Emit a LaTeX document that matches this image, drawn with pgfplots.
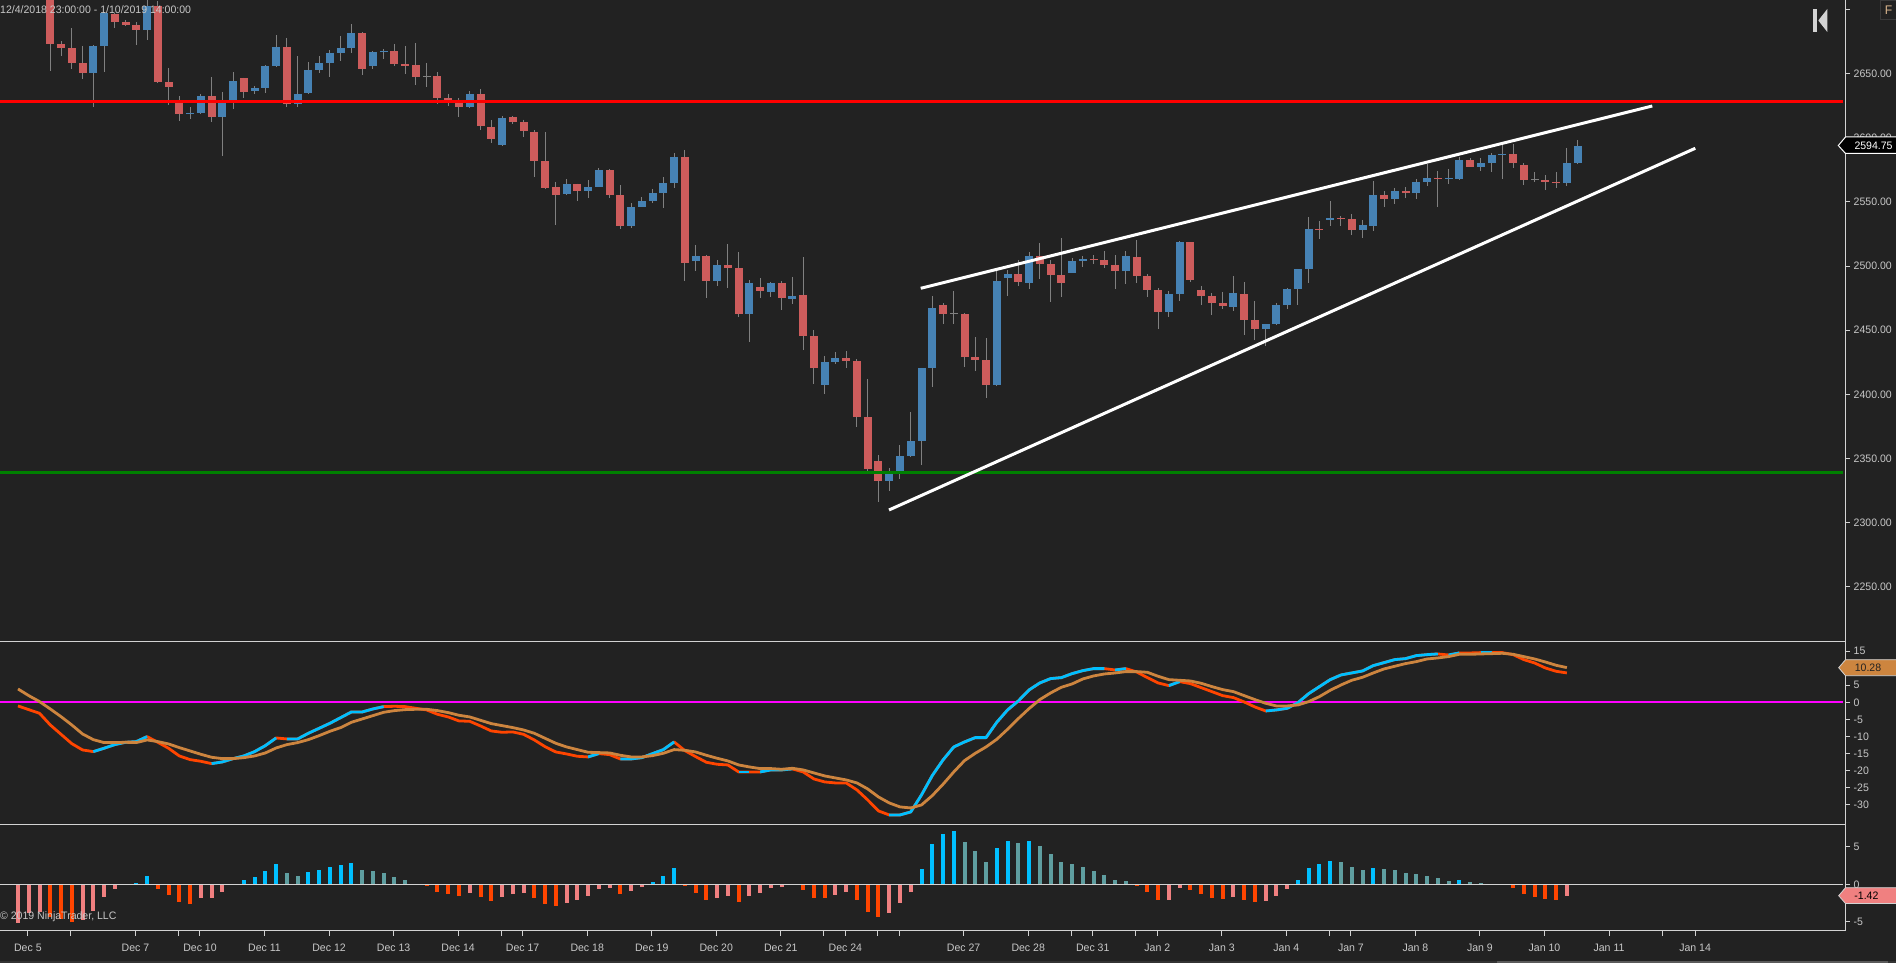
\documentclass[border=0pt]{standalone}
\usepackage{pgfplots}
\usepackage{pgfplotstable}
\usepackage{fontspec}
\setmainfont[FakeStretch=0.975]{Liberation Sans}
\pgfplotsset{compat=1.18}
\definecolor{bg}{HTML}{222222}
\definecolor{axg}{HTML}{D3D3D3}
\definecolor{txt}{HTML}{C8C8C8}
\definecolor{upc}{HTML}{4682B4}
\definecolor{dnc}{HTML}{CD5C5C}
\definecolor{wick}{HTML}{808080}
\definecolor{cy}{HTML}{00BFFF}
\definecolor{orr}{HTML}{FF4500}
\definecolor{peru}{HTML}{CD853F}
\definecolor{teal2}{HTML}{5F9EA0}
\definecolor{pink2}{HTML}{F08080}
\definecolor{mag}{HTML}{FF00FF}
\definecolor{grn}{HTML}{008000}
\definecolor{fbtn}{HTML}{3A3A3A}
\definecolor{ftxt}{HTML}{D8B48C}
\definecolor{strip}{HTML}{333333}
\definecolor{thumb}{HTML}{5A5A5A}

\pgfplotstableread{
i top bot hi lo
3 2712 2675.2 2715 2654
4 2675 2671.8 2677.3 2665.8
5 2671.8 2660 2687.5 2655.3
6 2660 2652 2673.4 2647.4
9 2698.6 2692.3 2699 2687.5
10 2692.3 2689.9 2693.9 2689.1
11 2689.9 2686 2692.3 2674.2
13 2704.9 2645 2708.8 2644.2
14 2645 2641.1 2656 2626.9
15 2630 2619.8 2634 2614.3
18 2634 2617.5 2649 2613.5
21 2648.2 2637.2 2648.5 2632.4
25 2672.6 2627.7 2679.7 2625.3
32 2683.6 2655.3 2684.4 2650.5
35 2669.4 2659.2 2675 2657.6
36 2659.2 2657.6 2673.4 2651.3
37 2658.4 2649 2675.7 2642.7
39 2649.8 2632.4 2652.9 2627.7
40 2632.4 2630 2635.6 2626.1
41 2630 2625.3 2632.4 2617.5
43 2635.6 2610.4 2639.5 2607.2
44 2609.6 2600.1 2615.1 2597
46 2617.5 2613.5 2618 2612
47 2613.5 2606.4 2615.5 2601.7
48 2605.6 2582.8 2607.2 2570.2
49 2582.8 2561.6 2605.6 2561
50 2562.3 2556 2566.3 2532.4
52 2564.7 2559.2 2565 2551.3
55 2575.7 2556 2576.5 2553.7
56 2556 2531.6 2563.9 2529.3
62 2586 2502.5 2591.5 2488.3
64 2508 2488.3 2508.8 2474.9
66 2500.9 2498.6 2517.5 2482.8
67 2498.6 2462.3 2511.2 2460
69 2483.6 2480.4 2490.7 2474.9
71 2486.8 2474.9 2488.3 2465.5
73 2477.3 2445 2507.2 2434
74 2445 2419.8 2449.8 2407.2
77 2427.7 2425.3 2433.2 2419.8
78 2425.3 2381.2 2426.9 2373.4
79 2381.2 2340.3 2411.2 2338.7
80 2346.6 2330.9 2351.3 2314.3
86 2469.4 2462.3 2471 2454.5
88 2462.3 2428.5 2463 2420.6
89 2428.5 2426.1 2444.2 2417.5
90 2426.1 2406.8 2443.4 2396
93 2493.8 2487.5 2504.9 2484.4
95 2508 2501.7 2518.3 2489.9
96 2501.7 2493 2504.9 2471.8
97 2493 2486.8 2522.2 2475.7
100 2505.6 2504.9 2508.8 2501.7
101 2504.9 2500.9 2512 2498.6
102 2500.9 2496.2 2508.8 2482
104 2507.2 2492.3 2520.6 2486.8
105 2492.3 2481.2 2493.8 2475.7
106 2481.2 2463.9 2482.8 2450.5
109 2519 2489.1 2519 2487.5
110 2481.2 2476.5 2484.4 2469.4
111 2476.5 2471 2478.9 2461.6
112 2471 2468.6 2479.7 2466.3
114 2478.1 2457.6 2487.5 2445.8
115 2457.6 2450.5 2472.6 2441.9
121 2529.3 2528.5 2535.6 2521.4
123 2537.9 2537.1 2539.5 2531.6
124 2537.1 2528.5 2541.1 2524.6
127 2556 2552.9 2559.2 2546.6
129 2559.2 2557.6 2562.3 2553.7
132 2569.4 2568.6 2575 2546.6
135 2583.6 2578.1 2585.2 2578
139 2588.3 2581.2 2596.2 2577.3
140 2579.7 2567.9 2581.2 2564
142 2567.9 2566.3 2571.8 2560
143 2566.3 2565.5 2574.2 2561.6
}\dncandles

\pgfplotstableread{
i top bot hi lo
7 2673.4 2652.1 2674.2 2625.3
8 2699.1 2673.4 2700 2652.9
12 2704.9 2686 2709.6 2678.1
16 2620.6 2619.8 2625.3 2615.9
17 2634 2620.6 2635.6 2620
19 2630.9 2617.5 2637.2 2586.8
20 2645.8 2630.9 2652.9 2623.8
22 2640.3 2638 2641.9 2635.6
23 2657.6 2640.3 2658.4 2636.4
24 2672.6 2657.6 2682 2656.8
26 2635.6 2627.7 2665.5 2625.3
27 2654.5 2636.4 2660.8 2635.6
28 2660 2654.5 2665.5 2652.1
29 2667.9 2660 2670.2 2649
30 2671.8 2667.9 2681.3 2661.6
31 2683.6 2671.8 2690.7 2667.9
33 2668.7 2657.6 2669.4 2655.3
34 2669.4 2668.7 2671 2663.1
42 2635.6 2625.3 2637.9 2624.6
45 2616.7 2595.4 2618 2595
51 2564.7 2556.8 2568.6 2556
53 2562.3 2559.2 2567.9 2553.7
54 2575.7 2562.3 2577.3 2562
57 2546.6 2531.6 2549.7 2530.1
58 2551.3 2546.6 2554.5 2546.5
59 2557.6 2551.3 2560.8 2549.7
60 2565.5 2557.6 2570.2 2545.8
61 2586 2565.5 2589.1 2561.6
63 2508 2504.1 2516.7 2496.2
65 2500.9 2488.3 2504.9 2484.4
68 2486.8 2462.3 2489.1 2440.3
70 2486.8 2479.7 2487.5 2475.7
72 2476.5 2474.2 2491.5 2470.2
75 2424.6 2406.4 2429.3 2399.4
76 2427.7 2424.6 2432.4 2423
81 2336.4 2330.9 2341.1 2323
82 2350.5 2338.7 2359.2 2332.4
83 2362.3 2350.5 2385.2 2350
84 2419.8 2362.3 2420 2343.4
85 2467.1 2419.8 2476.5 2404.9
91 2488.3 2406.8 2496.2 2406
92 2493.8 2490.7 2497 2476.5
94 2508 2486.8 2511.2 2482
98 2504.1 2494.6 2506.4 2494.5
99 2505.6 2504.1 2508 2499.4
103 2508 2496.2 2512 2486
107 2478.1 2463.9 2480.5 2460
108 2519 2478.1 2519.8 2472.6
113 2478.9 2467.9 2492.3 2464.7
116 2454.5 2450.5 2454.5 2437.1
117 2469.4 2454.5 2471 2453.7
118 2482 2469.4 2482.8 2466.3
119 2497.8 2482 2497.8 2469.4
120 2529.3 2497.8 2538.7 2486.8
122 2537.9 2536.4 2551.3 2531.6
125 2532.4 2528.5 2536.4 2522.2
126 2556 2531.6 2567.1 2527.7
128 2559.2 2552.9 2561.6 2549
130 2566.3 2557.6 2568.6 2552.9
131 2569.4 2566.3 2580.5 2563.1
133 2569.4 2568.6 2576.5 2564.7
134 2583.6 2568.6 2586 2567.9
136 2581.2 2578.1 2585.2 2575
137 2587.6 2581.2 2589.1 2574.2
138 2588.3 2587.6 2595.4 2568.6
144 2581.2 2565.5 2593.1 2563.1
145 2594.6 2581.2 2599.4 2580.5
}\upcandles

\pgfplotstableread{
i top bot hi lo
38 2649.9 2649.1 2660 2641.1
87 2463.3 2462.5 2480.5 2454.5
141 2568.8 2568 2574.2 2566.3
}\dojis

\pgfplotstableread{
i m s
0 -1.07 3.90
1 -2.15 1.95
2 -3.22 0.20
3 -6.63 -1.95
4 -9.37 -4.20
5 -12.10 -6.63
6 -13.95 -9.27
7 -14.44 -10.93
8 -13.46 -11.80
9 -12.39 -11.80
10 -11.71 -11.71
11 -11.51 -11.80
12 -10.05 -11.02
13 -11.71 -11.51
14 -13.46 -12.20
15 -15.71 -13.27
16 -16.78 -14.24
17 -17.27 -15.22
18 -17.95 -16.10
19 -17.46 -16.49
20 -16.49 -16.49
21 -15.71 -16.20
22 -14.44 -15.71
23 -12.68 -14.83
24 -10.44 -13.37
25 -10.73 -12.39
26 -10.73 -11.80
27 -9.07 -10.93
28 -7.61 -9.76
29 -6.15 -8.49
30 -4.49 -7.41
31 -2.83 -5.85
32 -2.83 -4.88
33 -1.95 -3.90
34 -1.27 -2.93
35 -1.17 -2.44
36 -1.27 -2.15
37 -1.76 -2.05
38 -2.24 -2.05
39 -3.51 -2.44
40 -4.29 -3.02
41 -5.46 -3.80
42 -5.56 -4.29
43 -6.93 -5.27
44 -8.39 -6.24
45 -8.78 -6.83
46 -8.68 -7.41
47 -9.37 -8.10
48 -11.02 -9.07
49 -12.98 -10.54
50 -14.54 -12.00
51 -15.12 -13.07
52 -15.80 -13.85
53 -16.00 -14.63
54 -15.02 -14.73
55 -15.32 -14.83
56 -16.59 -15.51
57 -16.59 -16.00
58 -16.20 -16.00
59 -15.02 -15.61
60 -13.85 -14.93
61 -11.61 -13.85
62 -14.15 -14.05
63 -15.90 -14.54
64 -17.56 -15.51
65 -18.15 -16.39
66 -18.34 -17.17
67 -20.39 -18.34
68 -20.39 -18.93
69 -20.39 -19.41
70 -19.80 -19.41
71 -19.80 -19.61
72 -19.51 -19.32
73 -20.39 -19.80
74 -22.44 -20.68
75 -23.32 -21.56
76 -23.61 -22.15
77 -23.61 -22.73
78 -25.66 -23.61
79 -28.59 -25.37
80 -31.80 -27.71
81 -32.98 -29.46
82 -32.98 -30.63
83 -32.10 -30.93
84 -27.12 -30.05
85 -21.46 -27.32
86 -16.88 -24.00
87 -13.07 -20.39
88 -11.61 -17.07
89 -10.34 -14.93
90 -10.34 -13.07
91 -5.85 -10.83
92 -2.24 -7.90
93 0.39 -4.78
94 3.61 -1.85
95 5.66 0.78
96 6.93 2.73
97 7.22 4.39
98 8.39 5.37
99 9.27 6.83
100 9.85 7.71
101 9.85 8.29
102 9.46 8.58
103 9.85 8.98
104 8.88 8.98
105 7.22 8.78
106 5.66 7.61
107 4.88 6.63
108 6.05 6.44
109 5.46 6.24
110 4.29 5.56
111 3.12 4.59
112 1.95 3.71
113 1.37 3.12
114 0.10 1.95
115 -1.37 0.78
116 -2.54 -0.29
117 -2.24 -1.07
118 -1.76 -1.07
119 -0.10 -0.78
120 2.54 0.20
121 4.59 1.66
122 6.63 3.51
123 8.00 5.07
124 8.59 6.44
125 9.17 7.32
126 10.73 8.59
127 11.61 9.76
128 12.49 10.54
129 12.78 11.32
130 13.66 11.90
131 13.95 12.68
132 14.15 12.98
133 13.85 13.37
134 14.44 14.05
135 14.44 14.05
136 14.54 14.15
137 14.54 14.24
138 14.54 14.34
139 13.95 14.05
140 12.49 13.37
141 11.51 12.68
142 10.05 11.80
143 9.07 10.83
144 8.59 10.15
}\macd

\pgfplotstableread{
i v
11 0.18
12 1.10
21 0.58
22 0.98
23 1.78
24 2.71
27 1.64
28 1.91
29 2.31
30 2.58
31 2.84
59 0.31
60 1.11
61 2.18
72 0.09
84 2.04
85 5.38
86 6.71
87 7.11
91 4.84
92 5.78
94 5.78
119 0.58
120 2.18
121 2.71
122 3.11
126 2.18
134 0.58
}\hcy
\pgfplotstableread{
i v
20 0.09
25 1.51
26 1.11
32 1.91
33 1.78
34 1.51
35 0.98
36 0.58
37 0.09
88 5.64
89 4.44
90 2.98
93 5.51
95 5.11
96 4.04
97 2.98
98 2.71
99 2.31
100 1.78
101 1.24
102 0.58
103 0.44
123 2.98
124 2.31
125 1.91
127 2.04
128 1.91
129 1.51
130 1.38
131 1.11
132 0.84
133 0.44
135 0.31
136 0.18
137 0.09
}\hte
\pgfplotstableread{
i v
3 -4.30
4 -4.60
5 -5.00
13 -0.58
14 -1.42
15 -2.36
16 -2.62
38 -0.22
39 -1.02
40 -1.29
41 -1.56
43 -1.69
44 -2.22
48 -1.82
49 -2.62
50 -2.89
56 -1.29
62 -0.22
63 -1.16
64 -2.09
67 -2.36
73 -0.76
74 -1.82
75 -1.82
78 -2.09
79 -3.69
80 -4.36
104 -0.22
105 -1.02
106 -2.09
109 -0.76
110 -1.29
111 -1.82
112 -1.96
114 -2.09
115 -2.36
139 -0.49
140 -1.29
141 -1.69
142 -1.96
143 -2.09
}\hor
\pgfplotstableread{
i v
0 -5.11
1 -3.87
2 -3.64
6 -4.76
7 -3.51
8 -1.64
9 -0.58
17 -1.82
18 -1.82
19 -1.02
42 -1.16
45 -1.69
46 -1.29
47 -1.16
51 -2.49
52 -2.09
53 -1.56
54 -0.62
55 -0.49
57 -0.89
58 -0.36
65 -1.82
66 -1.56
68 -1.56
69 -1.16
70 -0.49
71 -0.36
76 -1.42
77 -1.02
81 -3.82
82 -2.49
83 -1.02
107 -2.09
108 -0.49
113 -1.69
116 -2.22
117 -1.56
118 -0.62
144 -1.50
}\hpi

\pgfplotsset{
  panel/.style={
    scale only axis, width=1845pt,
    xmin=-1.6735, xmax=169.86,
    axis x line=bottom, axis y line=right,
    axis line style={draw=axg, line width=1pt, -},
    tick align=outside, major tick length=5pt,
    tick style={draw=axg, line width=1pt},
    every tick label/.style={font=\fontsize{10.8}{12}\selectfont, text=txt},
    yticklabel style={anchor=west, inner sep=0pt, xshift=3.5pt},
    clip=true,
  },
  hb/.style={forget plot, ycomb, no marks, color=#1, line width=4pt, line cap=butt},
}
% the candle tables were read with a scale of 1.27 px per point; the axis has 1.282
\newcommand{\wicks}[1]{\addplot[forget plot,no marks,color=wick,line width=1pt,line cap=butt,quiver={u=0,v=(\thisrow{lo}-\thisrow{hi})*0.99064}] table[x=i,y expr=2648.52-(2650-\thisrow{hi})*0.99064]{#1};}
\newcommand{\bodies}[2]{\addplot[forget plot,no marks,color=#1,line width=8pt,line cap=butt,quiver={u=0,v=(\thisrow{bot}-\thisrow{top})*0.99064}] table[x=i,y expr=2648.52-(2650-\thisrow{top})*0.99064]{#2};}
\newcommand{\cyrun}[2]{\addplot[forget plot,no marks,color=cy,line width=2.8pt,line join=round,restrict x to domain=#1:#2] table[x=i,y=m]{\macd};}

\begin{document}
\begin{tikzpicture}[x=1pt,y=1pt]
\useasboundingbox (0,0) rectangle (1896,963);
\fill[bg] (0,0) rectangle (1896,963);

% ---------- price panel
\begin{axis}[panel, name=price, at={(0pt,321pt)}, anchor=south west, height=642pt,
  ymin=2206.78, ymax=2707.57, xtick=\empty,
  ytick={2250,2300,2350,2400,2450,2500,2550,2600,2650,2700},
  yticklabels={2250.00,2300.00,2350.00,2400.00,2450.00,2500.00,2550.00,2600.00,2650.00,{}}]
\wicks{\dncandles}
\wicks{\upcandles}
\wicks{\dojis}
\bodies{dnc}{\dncandles}
\bodies{upc}{\upcandles}
\bodies{wick}{\dojis}
\addplot[forget plot,no marks,color=red,line width=3pt] coordinates {(-1.7,2628.39) (169.7,2628.39)};
\addplot[forget plot,no marks,color=grn,line width=3pt] coordinates {(-1.7,2339.16) (169.7,2339.16)};
\addplot[forget plot,no marks,color=white,line width=3pt] coordinates {(83.93,2482.68) (151.94,2624.88)};
\addplot[forget plot,no marks,color=white,line width=3pt] coordinates {(80.98,2309.75) (155.94,2591.89)};
\end{axis}

% ---------- MACD panel
\begin{axis}[panel, at={(0pt,138pt)}, anchor=south west, height=183pt,
  ymin=-35.92, ymax=17.65, xtick=\empty,
  ytick={-30,-25,-20,-15,-10,-5,0,5,10,15},
  yticklabels={-30,-25,-20,-15,-10,-5,0,5,10,15}]
\addplot[forget plot,no marks,color=mag,line width=1.6pt] coordinates {(-1.7,0) (169.7,0)};
\addplot[forget plot,no marks,color=orr,line width=2.8pt,line join=round] table[x=i,y=m]{\macd};
\cyrun{7}{12}\cyrun{18}{24}\cyrun{25}{34}\cyrun{53}{54}\cyrun{56}{61}\cyrun{67}{68}\cyrun{69}{72}
\cyrun{81}{101}\cyrun{102}{103}\cyrun{107}{108}\cyrun{116}{132}\cyrun{133}{134}\cyrun{136}{137}
\addplot[forget plot,no marks,color=peru,line width=2.8pt,line join=round] table[x=i,y=s]{\macd};
\end{axis}

% ---------- histogram panel
\begin{axis}[panel, at={(0pt,32pt)}, anchor=south west, height=106pt,
  ymin=-6.23, ymax=7.91,
  ytick={-5,0,5}, yticklabels={-5,0,5},
  xtick={0.92,4.92,10.92,14.92,16.92,22.92,28.92,34.92,40.92,44.92,46.92,52.92,58.92,64.92,70.92,74.92,76.92,79.92,81.92,87.92,93.92,97.92,99.92,103.92,105.92,111.92,117.92,121.92,123.92,129.92,135.92,141.92,147.92,152.92,155.92},
  xticklabels={Dec 5,{},Dec 7,{},Dec 10,Dec 11,Dec 12,Dec 13,Dec 14,{},Dec 17,Dec 18,Dec 19,Dec 20,Dec 21,{},Dec 24,{},{},Dec 27,Dec 28,{},Dec 31,{},Jan 2,Jan 3,Jan 4,{},Jan 7,Jan 8,Jan 9,Jan 10,Jan 11,{},Jan 14},
  xticklabel style={inner sep=0pt, yshift=-8pt}]
\addplot[hb=cy] table[x=i,y=v]{\hcy};
\addplot[hb=teal2] table[x=i,y=v]{\hte};
\addplot[hb=orr] table[x=i,y=v]{\hor};
\addplot[hb=pink2] table[x=i,y=v]{\hpi};
\addplot[forget plot,no marks,color=axg,line width=1pt] coordinates {(-1.7,0) (169.7,0)};
\end{axis}

% ---------- overlays, in the reference's pixel coordinates
\begin{scope}[x=1pt,y=-1pt,shift={(0pt,963pt)}]
\node[anchor=west,inner sep=0pt,text=txt,font=\fontsize{10.8}{12}\selectfont] at (0,10) {12/4/2018 23:00:00 - 1/10/2019 14:00:00};
\node[anchor=west,inner sep=0pt,text=txt,font=\fontsize{10.8}{12}\selectfont] at (0,917) {© 2019 NinjaTrader, LLC};
\fill[black] (1838.3,145.5) -- (1845.5,137) -- (1896,137) -- (1896,153.5) -- (1845.5,153.5) -- cycle;
\draw[white,line width=1pt] (1896,137) -- (1845.5,137) -- (1838.3,145.5) -- (1845.5,153.5) -- (1896,153.5);
\node[anchor=west,inner sep=0pt,text=white,font=\fontsize{10.8}{12}\selectfont] at (1854.3,145.5) {2594.75};
\fill[peru] (1838.7,667.7) -- (1845.5,659.7) -- (1896,659.7) -- (1896,675.7) -- (1845.5,675.7) -- cycle;
\draw[axg,line width=.8pt] (1896,659.7) -- (1845.5,659.7) -- (1838.7,667.7) -- (1845.5,675.7) -- (1896,675.7);
\node[anchor=west,inner sep=0pt,text=bg,font=\fontsize{10.8}{12}\selectfont] at (1854.6,667.7) {10.28};
\fill[pink2] (1838.7,895.7) -- (1845.5,887.7) -- (1896,887.7) -- (1896,903.5) -- (1845.5,903.5) -- cycle;
\draw[axg,line width=.8pt] (1896,887.7) -- (1845.5,887.7) -- (1838.7,895.7) -- (1845.5,903.5) -- (1896,903.5);
\node[anchor=west,inner sep=0pt,text=black,font=\fontsize{10.8}{12}\selectfont] at (1854.2,895.7) {-1.42};
% F button
\draw[fill=bg,draw=fbtn,line width=1pt] (1880,1) rectangle (1897,20);
\node[inner sep=0pt,text=ftxt,font=\fontsize{12.5}{14}\selectfont] at (1888.5,10.5) {F};
% collapse icon
\fill[axg] (1812.7,9) rectangle (1817.3,32);
\fill[axg] (1818.3,20.5) -- (1827.3,9) -- (1827.3,32) -- cycle;
% scroll strip
\fill[strip] (0,961) rectangle (1896,963);
\fill[thumb] (1497,961) rectangle (1888,963);
\end{scope}
\end{tikzpicture}
\end{document}
